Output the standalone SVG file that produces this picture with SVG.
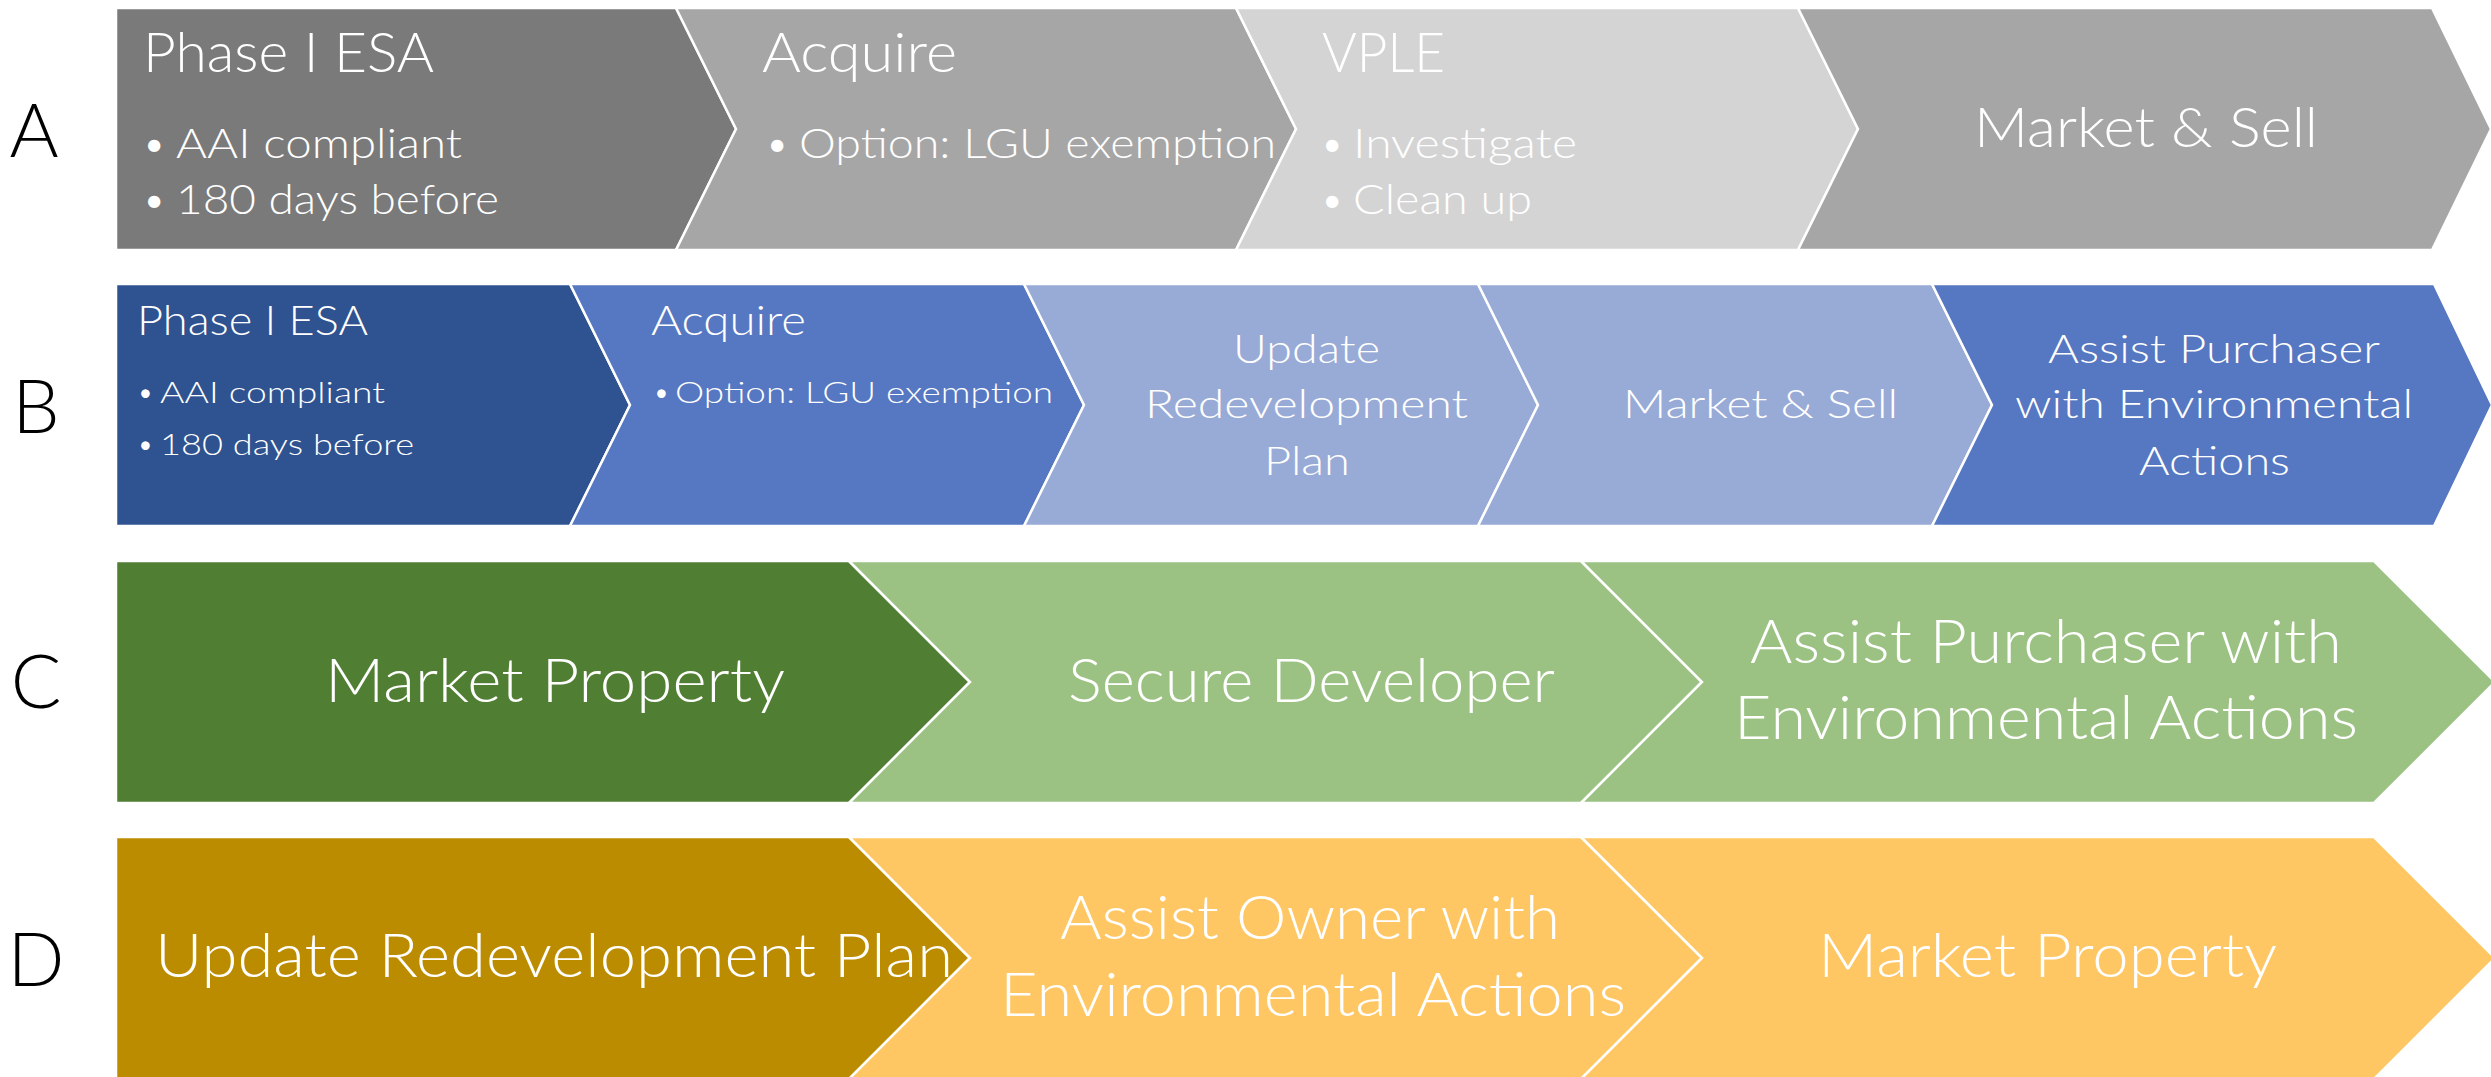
<svg xmlns="http://www.w3.org/2000/svg" width="2491" height="1077" viewBox="0 0 2491 1077">
  <style>
    .chev { stroke: #ffffff; stroke-width: 2.5; stroke-linejoin: miter; }
    .t { font-family: Lato, "Open Sans", "Liberation Sans", sans-serif; font-weight: 300; fill: #ffffff; }
    .lbl { font-family: Lato, "Open Sans", "Liberation Sans", sans-serif; font-weight: 300; fill: #000000; font-size: 75px; text-anchor: middle; }
    .a-h { font-size: 56px; }
    .a-b { font-size: 42px; }
    .b-h { font-size: 42px; }
    .b-b { font-size: 29px; }
    .b-c { font-size: 39px; }
    .big { font-size: 62px; }
  </style>
  <rect width="2491" height="1077" fill="#ffffff"/>

  <!-- row labels -->
  <g id="labels">
    <text class="lbl" x="34" y="157">A</text>
    <text class="lbl" x="36" y="433">B</text>
    <text class="lbl" x="36" y="708">C</text>
    <text class="lbl" x="36" y="986">D</text>
  </g>

  <!-- Row A -->
  <g id="a1">
    <polygon class="chev" fill="#7a7a7a" points="116,8 676,8 736,129 676,250 116,250"/>
    <text class="t a-h" x="143" y="72" textLength="291" lengthAdjust="spacingAndGlyphs">Phase I ESA</text>
    <text class="t a-b" x="142" y="158">•</text>
    <text class="t a-b" x="176" y="158" textLength="286" lengthAdjust="spacingAndGlyphs">AAI compliant</text>
    <text class="t a-b" x="142" y="214">•</text>
    <text class="t a-b" x="176" y="214" textLength="323" lengthAdjust="spacingAndGlyphs">180 days before</text>
  </g>
  <g id="a2">
    <polygon class="chev" fill="#a6a6a6" points="676,8 1236,8 1296,129 1236,250 676,250 736,129"/>
    <text class="t a-h" x="762" y="72" textLength="195" lengthAdjust="spacingAndGlyphs">Acquire</text>
    <text class="t a-b" x="765" y="158">•</text>
    <text class="t a-b" x="799" y="158" textLength="477" lengthAdjust="spacingAndGlyphs">Option: LGU exemption</text>
  </g>
  <g id="a3">
    <polygon class="chev" fill="#d4d4d4" points="1236,8 1798,8 1858,129 1798,250 1236,250 1296,129"/>
    <text class="t a-h" x="1322" y="72" textLength="123" lengthAdjust="spacingAndGlyphs">VPLE</text>
    <text class="t a-b" x="1320" y="158">•</text>
    <text class="t a-b" x="1353" y="158" textLength="224" lengthAdjust="spacingAndGlyphs">Investigate</text>
    <text class="t a-b" x="1320" y="214">•</text>
    <text class="t a-b" x="1353" y="214" textLength="179" lengthAdjust="spacingAndGlyphs">Clean up</text>
  </g>
  <g id="a4">
    <polygon class="chev" fill="#a6a6a6" points="1798,8 2432,8 2491,129 2432,250 1798,250 1858,129"/>
    <text class="t a-h" x="1974" y="147" textLength="344" lengthAdjust="spacingAndGlyphs">Market &amp; Sell</text>
  </g>

  <!-- Row B -->
  <g id="b1">
    <polygon class="chev" fill="#2f5290" points="116,284 570,284 630,405 570,526 116,526"/>
    <text class="t b-h" x="137" y="335" textLength="231" lengthAdjust="spacingAndGlyphs">Phase I ESA</text>
    <text class="t b-b" x="137" y="403">•</text>
    <text class="t b-b" x="160" y="403" textLength="225" lengthAdjust="spacingAndGlyphs">AAI compliant</text>
    <text class="t b-b" x="137" y="455">•</text>
    <text class="t b-b" x="160" y="455" textLength="254" lengthAdjust="spacingAndGlyphs">180 days before</text>
  </g>
  <g id="b2">
    <polygon class="chev" fill="#5677c1" points="570,284 1024,284 1084,405 1024,526 570,526 630,405"/>
    <text class="t b-h" x="651" y="335" textLength="155" lengthAdjust="spacingAndGlyphs">Acquire</text>
    <text class="t b-b" x="653" y="403">•</text>
    <text class="t b-b" x="675" y="403" textLength="378" lengthAdjust="spacingAndGlyphs">Option: LGU exemption</text>
  </g>
  <g id="b3">
    <polygon class="chev" fill="#98aad6" points="1024,284 1478,284 1538,405 1478,526 1024,526 1084,405"/>
    <text class="t b-c" x="1233" y="363" textLength="147" lengthAdjust="spacingAndGlyphs">Update</text>
    <text class="t b-c" x="1145" y="418" textLength="323" lengthAdjust="spacingAndGlyphs">Redevelopment</text>
    <text class="t b-c" x="1264" y="475" textLength="86" lengthAdjust="spacingAndGlyphs">Plan</text>
  </g>
  <g id="b4">
    <polygon class="chev" fill="#98aad6" points="1478,284 1932,284 1992,405 1932,526 1478,526 1538,405"/>
    <text class="t b-c" x="1623" y="418" textLength="275" lengthAdjust="spacingAndGlyphs">Market &amp; Sell</text>
  </g>
  <g id="b5">
    <polygon class="chev" fill="#5677c1" points="1932,284 2434,284 2492,405 2434,526 1932,526 1992,405"/>
    <text class="t b-c" x="2048" y="363" textLength="332" lengthAdjust="spacingAndGlyphs">Assist Purchaser</text>
    <text class="t b-c" x="2015" y="418" textLength="398" lengthAdjust="spacingAndGlyphs">with Environmental</text>
    <text class="t b-c" x="2139" y="475" textLength="151" lengthAdjust="spacingAndGlyphs">Actions</text>
  </g>

  <!-- Row C -->
  <g id="c1">
    <polygon class="chev" fill="#507e33" points="116,561 849,561 970,682 849,803 116,803"/>
    <text class="t big" x="325" y="702" textLength="460" lengthAdjust="spacingAndGlyphs">Market Property</text>
  </g>
  <g id="c2">
    <polygon class="chev" fill="#9bc283" points="849,561 1581,561 1702,682 1581,803 849,803 970,682"/>
    <text class="t big" x="1068" y="702" textLength="487" lengthAdjust="spacingAndGlyphs">Secure Developer</text>
  </g>
  <g id="c3">
    <polygon class="chev" fill="#9bc283" points="1581,561 2374,561 2495,682 2374,803 1581,803 1702,682"/>
    <text class="t big" x="1750" y="663" textLength="592" lengthAdjust="spacingAndGlyphs">Assist Purchaser with</text>
    <text class="t big" x="1734" y="739" textLength="624" lengthAdjust="spacingAndGlyphs">Environmental Actions</text>
  </g>

  <!-- Row D -->
  <g id="d1">
    <polygon class="chev" fill="#bc8c00" points="116,837 849,837 970,958 849,1079 116,1079"/>
    <text class="t big" x="155" y="977" textLength="798" lengthAdjust="spacingAndGlyphs">Update Redevelopment Plan</text>
  </g>
  <g id="d2">
    <polygon class="chev" fill="#ffc764" points="849,837 1581,837 1702,958 1581,1079 849,1079 970,958"/>
    <text class="t big" x="1060" y="939" textLength="500" lengthAdjust="spacingAndGlyphs">Assist Owner with</text>
    <text class="t big" x="1000" y="1016" textLength="626" lengthAdjust="spacingAndGlyphs">Environmental Actions</text>
  </g>
  <g id="d3">
    <polygon class="chev" fill="#ffc764" points="1581,837 2374,837 2495,958 2374,1079 1581,1079 1702,958"/>
    <text class="t big" x="1818" y="977" textLength="459" lengthAdjust="spacingAndGlyphs">Market Property</text>
  </g>

  <!-- no connectors: the chevrons abut directly -->
  <g id="connectors"/>
</svg>
